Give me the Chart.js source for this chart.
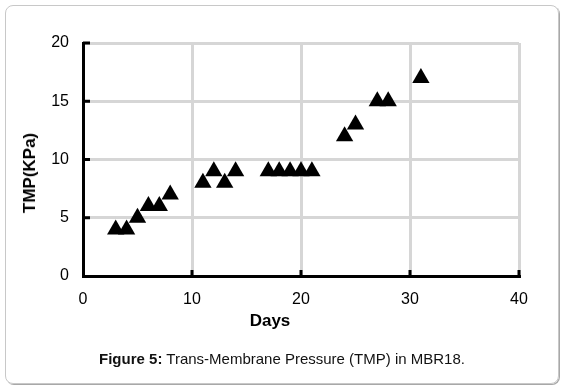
<!DOCTYPE html>
<html>
<head>
<meta charset="utf-8">
<script src="https://cdn.jsdelivr.net/npm/chart.js@4"></script>
<style>
  body { margin: 0; background: #fff; font-family: "Liberation Sans", Arial, sans-serif; }
  #wrap { position: relative; width: 570px; height: 392px; }
  #frame {
    position: absolute; left: 5px; top: 5px; width: 552px; height: 377px;
    border: 1px solid #c8c8c8; border-radius: 8px;
    box-shadow: 1px 1px 0 #a8a8a8;
  }
  canvas { position: absolute; left: 0; top: 0; }
  .titulo { position: absolute; font-weight: bold; font-size: 17px; color: #000; white-space: nowrap; }
  #tituloX { left: 270px; top: 321px; transform: translate(-50%, -50%); }
  #tituloY { left: 30px; top: 173px; transform: translate(-50%, -50%) rotate(-90deg); }
  #legenda {
    position: absolute; left: 282px; top: 358px; transform: translate(-50%, -50%);
    font-size: 15px; color: #111; white-space: nowrap;
  }
</style>
</head>
<body>
<div id="wrap">
  <div id="frame"></div>
  <canvas id="grafico" width="570" height="392"></canvas>
  <div class="titulo" id="tituloX">Days</div>
  <div class="titulo" id="tituloY">TMP(KPa)</div>
  <div id="legenda"><b>Figure 5:</b> Trans-Membrane Pressure (TMP) in MBR18.</div>
</div>
<script>
// Dados
const dias = [3, 4, 5, 6, 7, 8, 11, 12, 13, 14, 17, 18, 19, 20, 21, 24, 25, 27, 28, 31];
const tmp = [4, 4, 5, 6, 6, 7, 8, 9, 8, 9, 9, 9, 9, 9, 9, 12, 13, 15, 15, 17];
const ticksX = [0, 10, 20, 30, 40];
const ticksY = [0, 5, 10, 15, 20];

const pontos = dias.map((d, i) => ({ x: d, y: tmp[i] }));

// marquinhas pretas para dentro da área do gráfico
const marcasInternas = {
  id: 'marcasInternas',
  afterDraw(chart) {
    const ctx = chart.ctx;
    const sx = chart.scales.x;
    const sy = chart.scales.y;
    ctx.save();
    ctx.strokeStyle = '#000';
    ctx.lineWidth = 3;
    ctx.beginPath();
    ticksX.slice(1).forEach(v => {
      const px = sx.getPixelForValue(v);
      ctx.moveTo(px, sy.bottom);
      ctx.lineTo(px, sy.bottom - 6);
    });
    ticksY.slice(1).forEach(v => {
      const py = sy.getPixelForValue(v);
      ctx.moveTo(sx.left, py);
      ctx.lineTo(sx.left + 7, py);
    });
    ctx.stroke();
    ctx.restore();
  }
};

new Chart(document.getElementById('grafico').getContext('2d'), {
  type: 'scatter',
  data: {
    datasets: [{
      label: 'TMP',
      data: pontos,
      pointStyle: 'triangle',
      pointRadius: 10,
      pointHoverRadius: 10,
      backgroundColor: '#000',
      borderColor: '#000',
      borderWidth: 0
    }]
  },
  options: {
    responsive: false,
    animation: false,
    layout: { padding: { left: 0, top: 43, right: 51, bottom: 0 } },
    plugins: {
      legend: { display: false },
      tooltip: { enabled: false }
    },
    scales: {
      x: {
        type: 'linear',
        min: 0,
        max: 40,
        afterFit: s => { s.height = 116; },
        afterBuildTicks: s => { s.ticks = ticksX.map(v => ({ value: v })); },
        grid: { color: '#d6d6d6', lineWidth: 3, drawTicks: false },
        border: { display: true, color: '#000', width: 3 },
        ticks: { color: '#000', padding: 14, font: { family: 'Liberation Sans', size: 16 } }
      },
      y: {
        type: 'linear',
        min: 0,
        max: 20,
        afterFit: s => { s.width = 83; },
        afterBuildTicks: s => { s.ticks = ticksY.map(v => ({ value: v })); },
        grid: { color: '#d6d6d6', lineWidth: 3, drawTicks: false },
        border: { display: true, color: '#000', width: 3 },
        ticks: { color: '#000', padding: 14, font: { family: 'Liberation Sans', size: 16 } }
      }
    }
  },
  plugins: [marcasInternas]
});
</script>
</body>
</html>
